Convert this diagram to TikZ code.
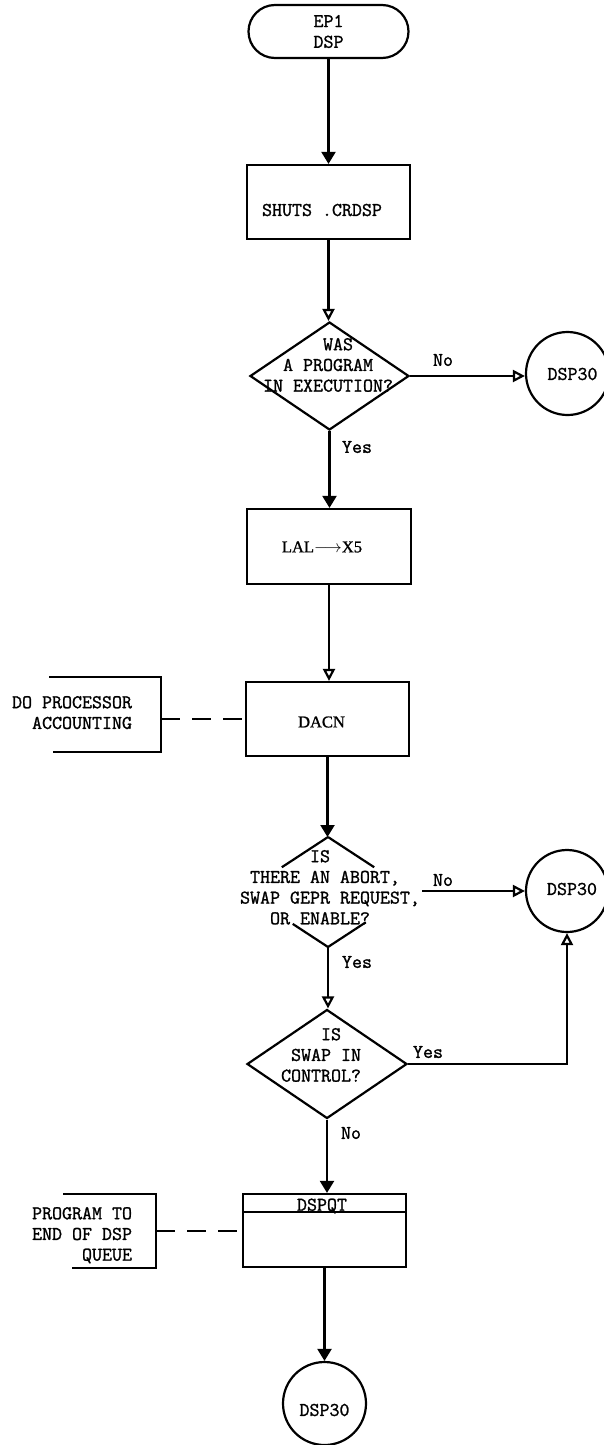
\documentclass[tikz,border=0pt]{standalone}
\usepackage{fontspec}
\newfontfamily\romfont[FakeBold=1.2]{Liberation Serif}
\newfontfamily\typefont[FakeBold=1.3]{Latin Modern Mono}
\usetikzlibrary{shapes.geometric,shapes.misc,arrows.meta,calc}
\begin{document}
\begin{tikzpicture}[x=1pt,y=-1pt,line width=2.2pt,
  typed/.style={font=\fontsize{19.4}{20.7}\selectfont\typefont, inner sep=0pt, align=left},
  rom/.style={font=\fontsize{16.5}{18}\selectfont\romfont, inner sep=0pt},
  term/.style={draw, rounded rectangle, inner sep=0pt, minimum width=160pt, minimum height=53pt, font=\fontsize{19.4}{20.7}\selectfont\typefont, align=left},
  procbox/.style={draw, rectangle, inner sep=0pt},
  decision/.style={draw, diamond, inner sep=0pt},
  connector/.style={draw, circle, inner sep=0pt},
  flow/.style={-{Triangle[length=12pt,width=14pt]}},
  oflow/.style={-{Triangle[open,length=12pt,width=12pt]}},
  note/.style={dash pattern=on 19pt off 12pt}
]
\useasboundingbox (0,0) rectangle (604,1445);

% start
\node[term] (start) at (328.5,31.5) {EP1\\DSP};

% SHUTS
\node[procbox, minimum width=163pt, minimum height=74pt] (shuts) at (328.5,202) {};
\node[typed] (shutst) at (322,210) {SHUTS .CRDSP};

% decision 1
\node[decision, minimum width=159pt, minimum height=108pt] (d1) at (329.5,376) {};
\node[typed, anchor=north west] (d1t) at (262,337) {\phantom{XXXXXX}WAS\\\phantom{XX}A PROGRAM\\IN EXECUTION?};
\node[typed] (no1) at (443,360) {No};
\node[connector, minimum size=83pt] (c1) at (567.5,373.5) {};
\node[typed] (c1t) at (572.5,374) {DSP30};
\node[typed] (yes1) at (357,447) {Yes};

% LAL
\node[procbox, minimum width=164pt, minimum height=75pt] (lal) at (329,546.5) {};
\node[rom] (lalt) at (322,547) {LAL$\longrightarrow$X5};

% DACN
\node[procbox, minimum width=163pt, minimum height=74pt] (dacn) at (327.5,719) {};
\node[rom] (dacnt) at (321.5,722) {DACN};
\node[typed, anchor=north west] (ann1) at (11,695) {DO PROCESSOR\\\phantom{XX}ACCOUNTING};
\draw (49,677) -- (161,677) -- (161,752) -- (53,752);
\coordinate (a1) at (161,719);

% decision 2
\node[decision, draw=none, outer sep=0pt, minimum width=168pt, minimum height=110pt] (d2) at (328,892) {};
\draw (d2.north) -- ($(d2.north)!0.55!(d2.west)$);
\draw (d2.north) -- ($(d2.north)!0.55!(d2.east)$);
\draw (d2.south) -- ($(d2.south)!0.42!(d2.west)$);
\draw (d2.south) -- ($(d2.south)!0.45!(d2.east)$);
\node[typed, anchor=north west] (d2t) at (239,849) {\phantom{XXXXXXX}IS\\\phantom{X}THERE AN ABORT,\\SWAP GEPR REQUEST,\\\phantom{XXX}OR ENABLE?};
\node[typed] (no2) at (443,880) {No};
\coordinate (d2out) at (422,891);
\node[connector, minimum size=82pt] (c2) at (567,891) {};
\node[typed] (c2t) at (572,889) {DSP30};
\node[typed] (yes2) at (357,962) {Yes};

% decision 3
\node[decision, minimum width=160pt, minimum height=109pt] (d3) at (327,1064) {};
\node[typed, anchor=north west] (d3t) at (280,1027) {\phantom{XXXX}IS\\\phantom{X}SWAP IN\\CONTROL?};
\node[typed] (yes3) at (428,1052) {Yes};
\node[typed] (no3) at (351,1133) {No};

% DSPQT
\node[procbox, minimum width=163pt, minimum height=73pt] (dspqt) at (324.5,1230.5) {};
\draw ($(dspqt.north west)+(1.1,19)$) -- ($(dspqt.north east)+(-1.1,19)$);
\node[typed] (dspqtt) at (322,1206) {DSPQT};
\node[typed, anchor=north west] (ann2) at (31,1206) {PROGRAM TO\\END OF DSP\\\phantom{XXXXX}QUEUE};
\draw (63,1194) -- (156,1194) -- (156,1268) -- (72,1268);
\coordinate (a2) at (156,1231);

% end
\node[connector, minimum size=83pt] (c3) at (324.5,1403.5) {};
\node[typed] (c3t) at (324.5,1410) {DSP30};

% connectors
\draw[flow] (start.south) -- (start.south |- shuts.north);
\draw[oflow] (shuts.south) -- (shuts.south |- d1.north);
\draw[oflow] (d1.east) -- (d1.east -| c1.west);
\draw[flow] (d1.south) -- (d1.south |- lal.north);
\draw[oflow] (lal.south) -- (lal.south |- dacn.north);
\draw[note] (a1) -- (a1 -| dacn.west);
\draw[flow] (dacn.south) -- (dacn.south |- d2.north);
\draw[oflow] (d2out) -- (c2.west);
\draw[oflow] (d2.south) -- (d2.south |- d3.north);
\draw[oflow] (d3.east) -| (c2.south);
\draw[flow] (d3.south) -- (d3.south |- dspqt.north);
\draw[note] (a2) -- (a2 -| dspqt.west);
\draw[flow] (dspqt.south) -- (dspqt.south |- c3.north);
\end{tikzpicture}
\end{document}
